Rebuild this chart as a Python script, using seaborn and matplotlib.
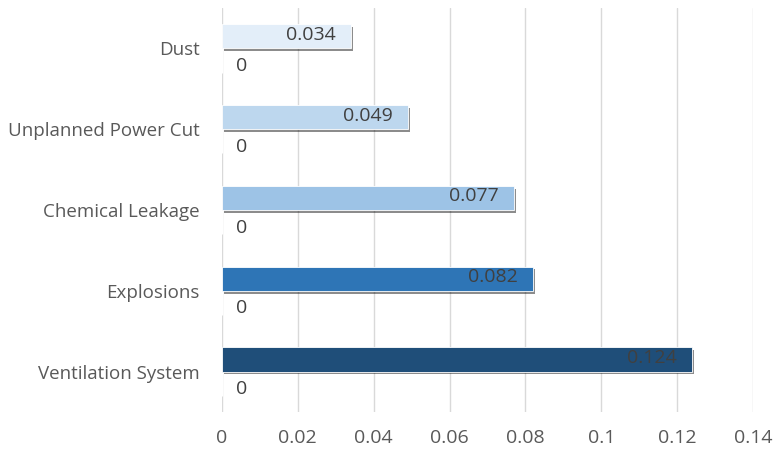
import matplotlib
matplotlib.use("Agg")
import matplotlib.pyplot as plt
import matplotlib.patheffects as pe
import seaborn as sns
import pandas as pd

# 데이터
categories = ["Dust", "Unplanned Power Cut", "Chemical Leakage", "Explosions", "Ventilation System"]
values = [0.034, 0.049, 0.077, 0.082, 0.124]
zeros = [0, 0, 0, 0, 0]
bar_colors = ["#E3EEF9", "#BDD7EE", "#9DC3E6", "#2E75B6", "#1F4E79"]
xticks = [0, 0.02, 0.04, 0.06, 0.08, 0.1, 0.12, 0.14]

df = pd.DataFrame({
    "category": categories * 2,
    "series": ["value"] * len(categories) + ["zero"] * len(categories),
    "score": values + zeros,
})

sns.set_style("white")
plt.rcParams["font.family"] = ["Open Sans", "DejaVu Sans"]

fig = plt.figure(figsize=(7.74, 4.5), dpi=100)
ax = fig.add_axes([222 / 774, 1 - 412 / 450, (753 - 222) / 774, (412 - 8) / 450])

sns.barplot(data=df, y="category", x="score", hue="series", order=categories,
            hue_order=["value", "zero"], orient="h", width=0.6, legend=False, ax=ax)

# 막대 색상 + 그림자
for patch, c in zip(ax.containers[0], bar_colors):
    patch.set_facecolor(c)
    patch.set_edgecolor("#FFFFFF")
    patch.set_linewidth(0.6)
    patch.set_path_effects([pe.SimplePatchShadow(offset=(1.5, -2), shadow_rgbFace="black", alpha=0.45),
                            pe.Normal()])

# 값 라벨 (막대 안쪽 끝)
for patch, v in zip(ax.containers[0], values):
    ax.annotate(f"{v:.3f}", (patch.get_x() + patch.get_width(), patch.get_y() + patch.get_height() / 2),
                xytext=(-11, 1), textcoords="offset points", ha="right", va="center",
                fontsize=14, color="#404040")

# 0 라벨
for patch, z in zip(ax.containers[1], zeros):
    ax.annotate(str(z), (patch.get_x() + patch.get_width(), patch.get_y() + patch.get_height() / 2),
                xytext=(10, -4), textcoords="offset points", ha="left", va="center",
                fontsize=14, color="#404040")

ax.set_xlim(0, 0.14)
ax.set_ylim(4.5, -0.5)
ax.set_xticks(xticks)
ax.set_xticklabels([f"{t:g}" for t in xticks])
ax.grid(axis="x", color="#D9D9D9", linewidth=1)
ax.set_axisbelow(True)
for s in ax.spines.values():
    s.set_visible(False)
ax.tick_params(axis="x", length=0, labelsize=14, labelcolor="#595959", pad=12)
ax.tick_params(axis="y", length=0, labelsize=13.5, labelcolor="#595959", pad=16)
ax.set_xlabel("")
ax.set_ylabel("")

plt.savefig("out.png", dpi=100)
